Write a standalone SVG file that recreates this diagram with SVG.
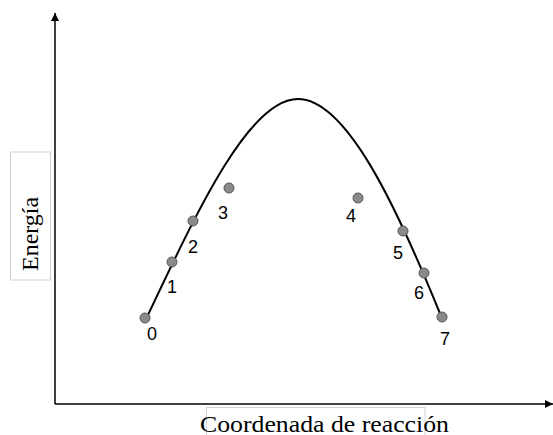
<svg xmlns="http://www.w3.org/2000/svg" width="553" height="435" viewBox="0 0 553 435">
<style>
.axis{stroke:#000;stroke-width:1.5;fill:none}
.curve{stroke:#000;stroke-width:2;fill:none}
.pt{fill:#8a8a8a;stroke:#555;stroke-width:1}
.num{font-family:"Liberation Sans",Arial,sans-serif;font-size:18px;fill:#000;text-anchor:middle}
.lbl{font-family:"Liberation Serif","Times New Roman",serif;font-size:24px;fill:#000}
.box{fill:#fff;stroke:#d0d0d0;stroke-width:1}
</style>
<defs>
<marker id="arr" viewBox="0 0 10 10" refX="10" refY="5" markerWidth="8" markerHeight="8" markerUnits="userSpaceOnUse" orient="auto">
<path d="M0,0 L10,5 L0,10 Z" fill="#000"/>
</marker>
</defs>
<g id="axes">
<line class="axis" x1="55" y1="404" x2="55" y2="13" marker-end="url(#arr)"/>
<line class="axis" x1="55" y1="404" x2="553" y2="404" marker-end="url(#arr)"/>
</g>
<g id="ylabel">
<rect class="box" x="10.5" y="152" width="40" height="128"/>
<text class="lbl" transform="translate(38,271) rotate(-90)">Energía</text>
</g>
<g id="xlabel">
<rect class="box" x="206.5" y="407.5" width="218.5" height="40"/>
<text class="lbl" x="200" y="432" textLength="249" lengthAdjust="spacingAndGlyphs">Coordenada de reacción</text>
</g>
<g id="connectors">
<path class="curve" d="M147,317 C200,205 250,99 298,99 C346,99 396,205 441,316"/>
</g>
<g id="p0"><circle class="pt" cx="145" cy="318" r="5"/><text class="num" x="152" y="340">0</text></g>
<g id="p1"><circle class="pt" cx="172" cy="262" r="5"/><text class="num" x="172" y="293">1</text></g>
<g id="p2"><circle class="pt" cx="193" cy="221" r="5"/><text class="num" x="193" y="253">2</text></g>
<g id="p3"><circle class="pt" cx="229" cy="188" r="5"/><text class="num" x="223" y="219">3</text></g>
<g id="p4"><circle class="pt" cx="358" cy="198" r="5"/><text class="num" x="351" y="222">4</text></g>
<g id="p5"><circle class="pt" cx="403" cy="231" r="5"/><text class="num" x="398" y="259">5</text></g>
<g id="p6"><circle class="pt" cx="424" cy="273" r="5"/><text class="num" x="419" y="299">6</text></g>
<g id="p7"><circle class="pt" cx="442" cy="317" r="5"/><text class="num" x="445" y="345">7</text></g>
</svg>
